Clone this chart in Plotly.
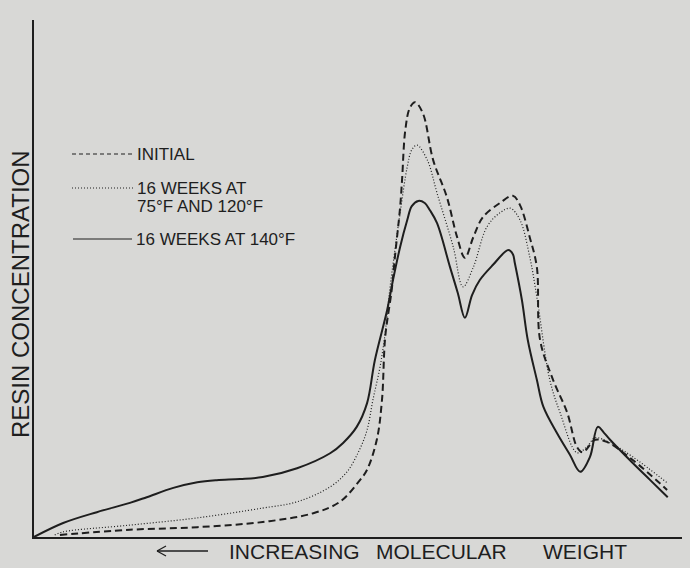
import plotly.graph_objects as go

# Relative position along the elution axis (0-100) and resin concentration (0-100)
x_initial = [4.0, 14.8, 25.2, 35.3, 43.1, 47.2, 50.3, 51.4, 52.9, 53.7, 54.2, 55.2, 55.7,
             56.5, 56.8, 57.3, 58.0, 58.8, 60.0, 61.6, 63.7, 65.3, 66.5, 67.8, 69.3, 71.9,
             73.9, 75.0, 76.5, 77.6, 78.1, 80.1, 82.3, 83.8, 84.7, 86.6, 88.4, 92.4, 97.7]
y_initial = [0.4, 1.4, 1.9, 2.9, 4.6, 6.8, 11.0, 13.0, 18.8, 26.5, 38.7, 47.8, 54.2,
             63.8, 69.1, 78.7, 83.0, 84.1, 82.0, 72.9, 65.8, 58.0, 54.0, 58.0, 61.9, 64.6,
             66.0, 64.2, 58.0, 52.2, 38.1, 30.4, 24.0, 17.4, 16.4, 18.8, 18.4, 14.9, 9.1]

x_16wk_mild = [3.2, 4.5, 14.8, 25.2, 35.3, 40.6, 45.7, 48.3, 50.2, 51.4, 52.3, 53.4, 54.2,
               54.9, 55.7, 56.5, 57.6, 58.3, 59.1, 60.7, 62.2, 64.7, 66.2, 67.8, 69.9, 71.9,
               73.5, 75.0, 76.5, 77.6, 79.6, 81.2, 83.8, 85.3, 86.6, 88.9, 92.4, 97.8]
y_16wk_mild = [0.4, 1.0, 2.3, 3.7, 5.6, 6.8, 9.7, 12.6, 16.8, 20.7, 26.5, 32.9, 39.5,
               47.8, 55.5, 62.7, 71.6, 74.9, 75.8, 72.9, 66.5, 56.1, 48.4, 52.2, 60.0, 62.7,
               63.6, 61.3, 54.2, 46.4, 30.4, 24.0, 16.3, 17.4, 19.2, 18.2, 15.5, 10.4]

x_16wk_140 = [0.0, 4.5, 9.7, 14.8, 17.4, 21.5, 25.2, 28.2, 31.8, 35.3, 40.6, 45.7, 47.7,
              49.8, 51.4, 52.6, 54.5, 55.4, 56.5, 57.6, 58.3, 59.3, 60.3, 61.1, 62.2, 64.2,
              65.4, 66.5, 67.6, 68.8, 70.8, 73.2, 73.9, 74.2, 75.3, 76.2, 77.6, 78.6, 80.7,
              82.7, 84.3, 85.8, 87.0, 88.0, 88.9, 92.4, 95.1, 97.8]
y_16wk_140 = [0.0, 2.7, 4.8, 6.6, 7.7, 9.5, 10.6, 11.0, 11.2, 11.6, 13.3, 16.2, 18.2,
              21.3, 25.9, 34.2, 43.9, 49.7, 56.1, 61.3, 64.0, 65.0, 64.6, 63.2, 60.7, 52.2,
              47.2, 42.4, 46.8, 49.7, 52.6, 55.5, 54.7, 53.0, 45.8, 38.1, 30.4, 25.2, 20.1,
              15.9, 12.6, 15.5, 21.3, 20.1, 18.8, 14.3, 11.0, 7.7]

legend_labels = ["INITIAL", "16 WEEKS AT", "75\u00b0F AND 120\u00b0F", "16 WEEKS AT 140\u00b0F"]
x_title_words = ["INCREASING", "MOLECULAR", "WEIGHT"]
y_title = "RESIN CONCENTRATION"

W, H = 690, 568
L, R, T, B = 34, 8, 20, 31
PW, PH = W - L - R, H - T - B
INK = "#1e1e1e"
FONT = "Liberation Sans, Arial, sans-serif"
SMOOTH = 1.0


def px(xp):
    return (xp - L) / PW


def py(yp):
    return (H - B - yp) / PH


fig = go.Figure()
fig.add_trace(go.Scatter(x=x_initial, y=y_initial, mode="lines",
                         line=dict(color=INK, width=2, dash="7px,4px", shape="spline", smoothing=SMOOTH),
                         showlegend=False, hoverinfo="skip"))
fig.add_trace(go.Scatter(x=x_16wk_mild, y=y_16wk_mild, mode="lines",
                         line=dict(color=INK, width=1.2, dash="1px,2px", shape="spline", smoothing=SMOOTH),
                         showlegend=False, hoverinfo="skip"))
fig.add_trace(go.Scatter(x=x_16wk_140, y=y_16wk_140, mode="lines",
                         line=dict(color=INK, width=2, shape="spline", smoothing=SMOOTH),
                         showlegend=False, hoverinfo="skip"))

shapes = []
# key line samples
shapes.append(dict(type="line", xref="paper", yref="paper", x0=px(72), x1=px(133), y0=py(154), y1=py(154),
                   line=dict(color=INK, width=1, dash="4px,3px")))
shapes.append(dict(type="line", xref="paper", yref="paper", x0=px(72), x1=px(133), y0=py(188), y1=py(188),
                   line=dict(color=INK, width=1, dash="1px,2px")))
shapes.append(dict(type="line", xref="paper", yref="paper", x0=px(73), x1=px(132), y0=py(239), y1=py(239),
                   line=dict(color=INK, width=1.2)))
# direction arrow under the x axis
shapes.append(dict(type="line", xref="paper", yref="paper", x0=px(157), x1=px(208), y0=py(551), y1=py(551),
                   line=dict(color=INK, width=1.3)))
shapes.append(dict(type="line", xref="paper", yref="paper", x0=px(157), x1=px(166), y0=py(551), y1=py(546),
                   line=dict(color=INK, width=1.3)))
shapes.append(dict(type="line", xref="paper", yref="paper", x0=px(157), x1=px(166), y0=py(551), y1=py(556),
                   line=dict(color=INK, width=1.3)))

annotations = []
legend_pos = [(136, 154), (136, 188), (136, 206), (135, 239)]
for text, (ax_, ay_) in zip(legend_labels, legend_pos):
    annotations.append(dict(text=text, xref="paper", yref="paper", x=px(ax_), y=py(ay_),
                            xanchor="left", yanchor="middle", showarrow=False, borderpad=0,
                            font=dict(family=FONT, size=17, color=INK)))

word_pos = [228, 375, 542]
for text, wx in zip(x_title_words, word_pos):
    annotations.append(dict(text=text, xref="paper", yref="paper", x=px(wx), y=py(551),
                            xanchor="left", yanchor="middle", showarrow=False, borderpad=0,
                            font=dict(family=FONT, size=21, color=INK)))

annotations.append(dict(text=y_title, xref="paper", yref="paper", x=px(20), y=py(294),
                        xanchor="center", yanchor="middle", textangle=-90, showarrow=False,
                        borderpad=0, font=dict(family=FONT, size=24, color=INK)))

fig.update_layout(
    width=W, height=H,
    margin=dict(l=L, r=R, t=T, b=B),
    paper_bgcolor="#d8d8d6",
    plot_bgcolor="#d8d8d6",
    shapes=shapes,
    annotations=annotations,
    xaxis=dict(range=[0, 100], showline=True, linecolor=INK, linewidth=2, showgrid=False,
               zeroline=False, showticklabels=False, ticks=""),
    yaxis=dict(range=[0, 100], showline=True, linecolor=INK, linewidth=2, showgrid=False,
               zeroline=False, showticklabels=False, ticks=""),
)

fig.write_html("out.html")
